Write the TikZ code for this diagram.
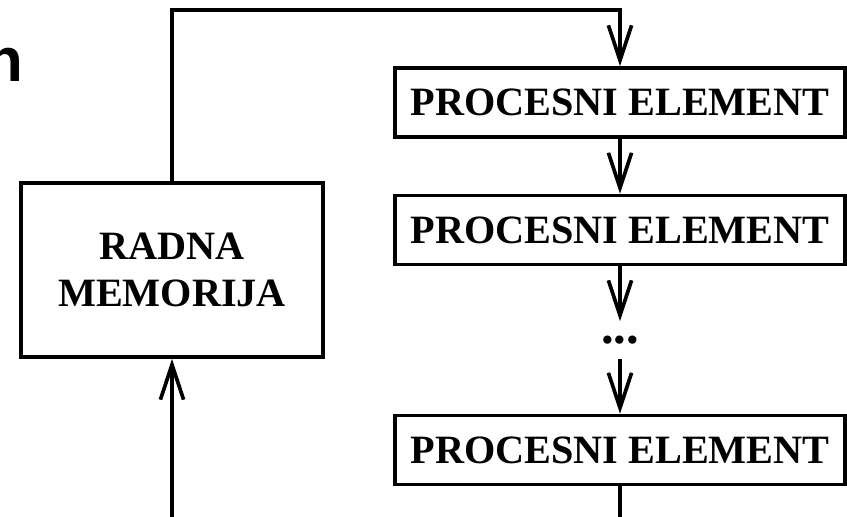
\documentclass[tikz,border=0pt]{standalone}
\usepackage{fontspec}
\setmainfont{Liberation Serif}
\newfontfamily\naslovfont{Liberation Sans}
\usetikzlibrary{arrows.meta,calc}

\begin{document}
\begin{tikzpicture}[x=0.025cm, y=-0.025cm, line width=2.6pt,
		blok/.style={draw, inner sep=0pt, align=center, font=\fontsize{28.6}{33.4}\selectfont\bfseries},
		strelica/.style={-{Straight Barb[length=0.875cm, width=0.58cm, line width=2.6pt]}}]
		\useasboundingbox (0,0) rectangle (847,517);
		\clip (0,0) rectangle (847,517);
		\node[anchor=base east, inner sep=0pt, font=\naslovfont\fontsize{44}{50}\selectfont\bfseries] (naslov) at (25,82) {n};
		\node[blok, minimum width=7.55cm, minimum height=4.35cm] (RM) at (172,270) {RADNA\\MEMORIJA};
		\foreach \ime/\y in {P1/102.5, P2/230, P3/450}{
			\node[blok, minimum width=11.25cm, minimum height=1.725cm] (\ime) at (620,\y) {PROCESNI ELEMENT};
		}
		\node[inner sep=0pt, minimum height=0.85cm, font=\fontsize{36}{40}\selectfont\bfseries] (tacke) at (620,340) {...};
		\coordinate (vrh) at (0,10);
		\coordinate (dno) at (0,560);
		\draw[strelica] (RM.north) -- (RM.north |- vrh) -| (P1.north);
		\draw[strelica] (P1.south) -- (P2.north);
		\draw[strelica] (P2.south) -- (tacke.north);
		\draw[strelica] (tacke.south) -- (P3.north);
		\draw[strelica] (P3.south) -- (P3.south |- dno) -| (RM.south);
	\end{tikzpicture}
\end{document}
